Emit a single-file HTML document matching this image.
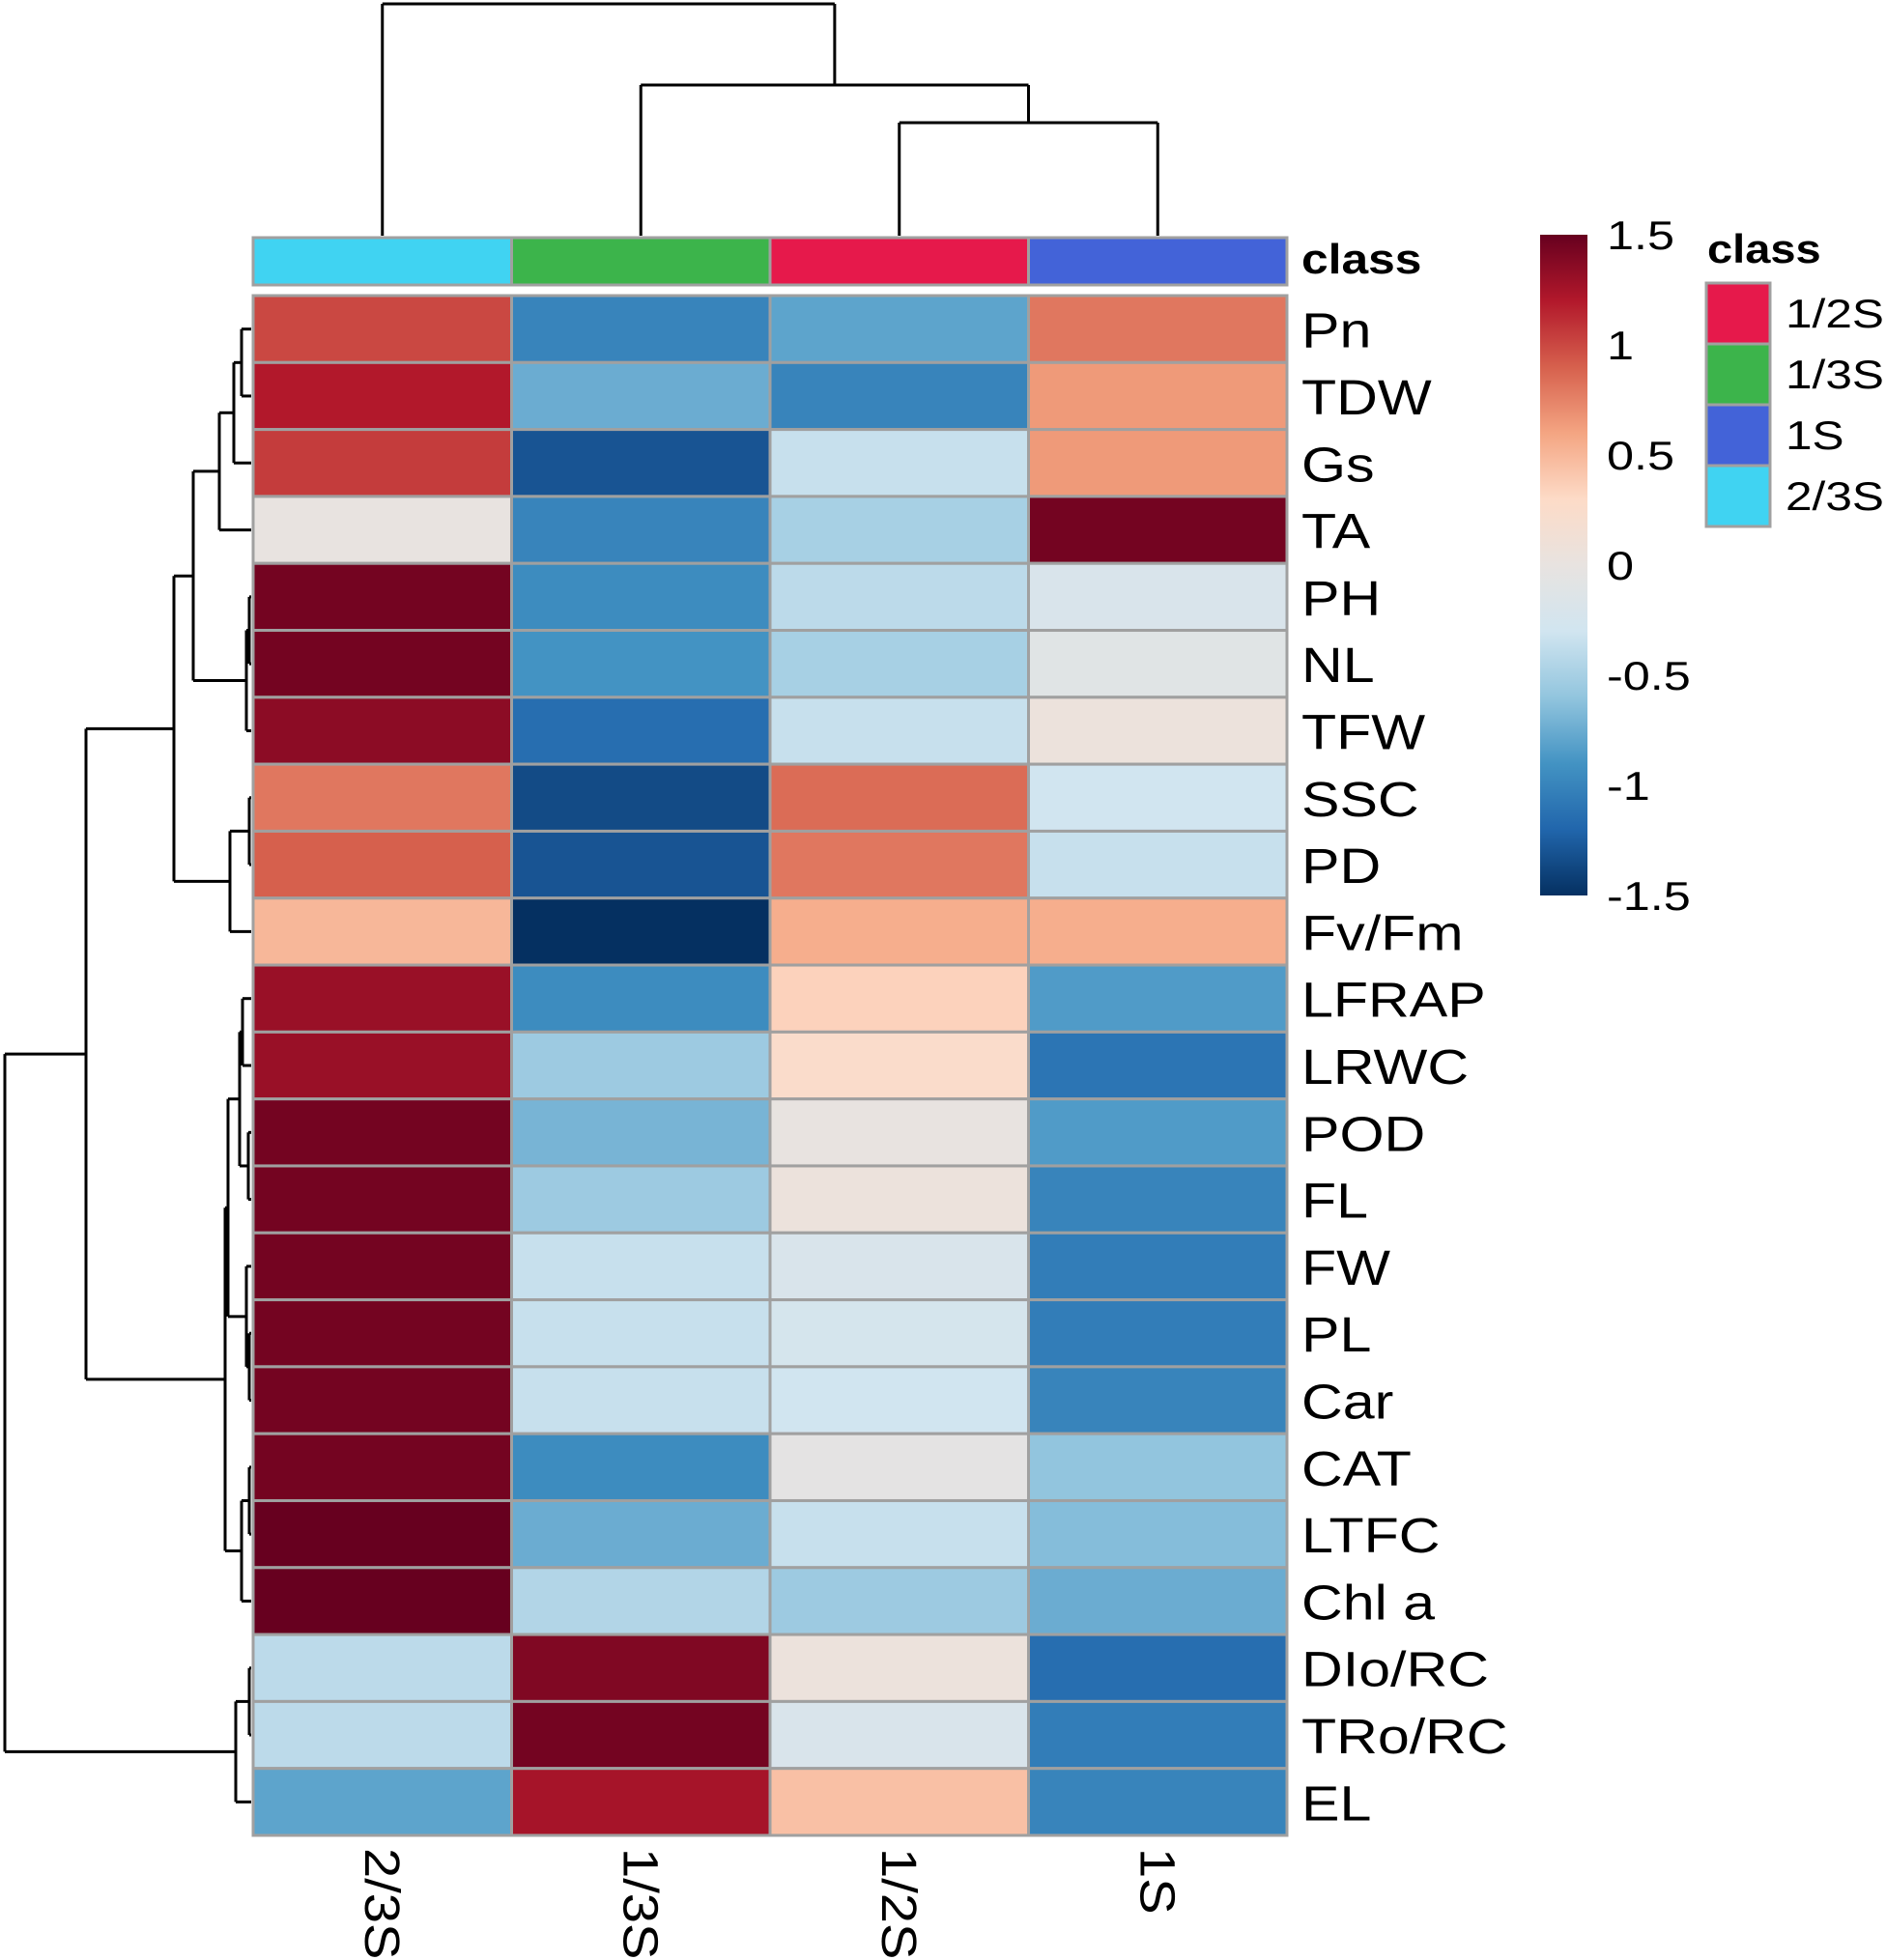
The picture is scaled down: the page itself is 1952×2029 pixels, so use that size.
<!DOCTYPE html>
<html><head><meta charset="utf-8"><style>
html,body{margin:0;padding:0;background:#fff;}
svg{display:block;font-family:"Liberation Sans",sans-serif;}
</style></head><body>
<svg id="chart" width="1952" height="2029" viewBox="0 0 1952 2029" xmlns="http://www.w3.org/2000/svg">
<defs>
<linearGradient id="cbar" x1="0" y1="1" x2="0" y2="0">
<stop offset="0" stop-color="#053061"/><stop offset="0.1" stop-color="#2166ac"/><stop offset="0.2" stop-color="#4393c3"/><stop offset="0.3" stop-color="#92c5de"/><stop offset="0.4" stop-color="#d1e5f0"/><stop offset="0.5" stop-color="#e8e3e0"/><stop offset="0.6" stop-color="#fddbc7"/><stop offset="0.7" stop-color="#f4a582"/><stop offset="0.8" stop-color="#d6604d"/><stop offset="0.9" stop-color="#b2182b"/><stop offset="1" stop-color="#67001f"/>
</linearGradient>
</defs>
<g id="cells"></g>
<g id="classbar"></g>
<g id="rowlabels"></g>
<g id="collabels"></g>
<g id="rowdend" stroke="#000" stroke-width="3" fill="none"></g>
<g id="coldend" stroke="#000" stroke-width="3" fill="none"></g>
<text transform="translate(1347,283) scale(1.13,1)" font-size="44" font-weight="bold">class</text>
<g>
<rect x="1594" y="243" width="49" height="684" fill="url(#cbar)"/>
<g id="cbticks"></g>
</g>
<g>
<text transform="translate(1767,272) scale(1.12,1)" font-size="42" font-weight="bold">class</text>
<g id="classleg"></g>
</g>
</svg>
<script>
const rows = ["Pn","TDW","Gs","TA","PH","NL","TFW","SSC","PD","Fv/Fm","LFRAP","LRWC","POD","FL","FW","PL","Car","CAT","LTFC","Chl a","DIo/RC","TRo/RC","EL"];
const cols = ["2/3S","1/3S","1/2S","1S"];
const v23S = [1.0,1.2,1.05,0.0,1.45,1.45,1.35,0.8,0.9,0.5,1.3,1.3,1.45,1.45,1.45,1.45,1.45,1.45,1.5,1.5,-0.4,-0.4,-0.8];
const v13S = [-1.0,-0.75,-1.3,-1.0,-0.95,-0.9,-1.15,-1.35,-1.3,-1.5,-0.95,-0.55,-0.7,-0.55,-0.35,-0.35,-0.35,-0.95,-0.75,-0.45,1.4,1.45,1.25];
const v12S = [-0.8,-1.0,-0.35,-0.5,-0.4,-0.5,-0.35,0.85,0.8,0.55,0.35,0.25,0.0,0.05,-0.2,-0.25,-0.3,-0.05,-0.35,-0.55,0.05,-0.2,0.45];
const v1S = [0.8,0.65,0.65,1.45,-0.2,-0.1,0.05,-0.3,-0.35,0.55,-0.85,-1.1,-0.85,-1.0,-1.05,-1.05,-1.0,-0.6,-0.65,-0.75,-1.15,-1.05,-1.0];
const series = [v23S,v13S,v12S,v1S];
const classNames = ["1/2S","1/3S","1S","2/3S"];
const classColors = ["#E6194B","#3CB44B","#4363D8","#40D3F2"];
const colClass = ["2/3S","1/3S","1/2S","1S"];
const cbTicks = [1.5,1,0.5,0,-0.5,-1,-1.5];
const cbTickLabels = ["1.5","1","0.5","0","-0.5","-1","-1.5"];

const NS="http://www.w3.org/2000/svg";
const X0=262,X1=1332,Y0=306,Y1=1900;
const cw=(X1-X0)/cols.length, rh=(Y1-Y0)/rows.length;
const xPos=j=>X0+j*cw, yPos=i=>Y0+i*rh;
const stops=[[-1.5,[5,48,97]],[-1.2,[33,102,172]],[-0.9,[67,147,195]],[-0.6,[146,197,222]],[-0.3,[209,229,240]],[0,[232,227,224]],[0.3,[253,219,199]],[0.6,[244,165,130]],[0.9,[214,96,77]],[1.2,[178,24,43]],[1.5,[103,0,31]]];
function color(v){v=Math.max(-1.5,Math.min(1.5,v));for(let k=0;k<stops.length-1;k++){const a=stops[k],b=stops[k+1];if(v<=b[0]){const t=(v-a[0])/(b[0]-a[0]);const c=a[1].map((x,i)=>Math.round(x+(b[1][i]-x)*t));return `rgb(${c})`;}}return "rgb(103,0,31)";}
function mk(tag,attrs,parent){const e=document.createElementNS(NS,tag);for(const k in attrs)e.setAttribute(k,attrs[k]);parent.appendChild(e);return e;}

const cells=document.getElementById('cells');
series.forEach((s,j)=>s.forEach((v,i)=>{
  const r=mk('rect',{x:xPos(j),y:yPos(i),width:cw,height:rh,fill:color(v),stroke:'#a0a0a0','stroke-width':3},cells);
  
  
}));
const cb=document.getElementById('classbar');
colClass.forEach((c,j)=>{
  const r=mk('rect',{x:xPos(j),y:246,width:cw,height:49,fill:classColors[classNames.indexOf(c)],stroke:'#a0a0a0','stroke-width':3},cb);
  
  
});
const rl=document.getElementById('rowlabels');
rows.forEach((n,i)=>{
  const t=mk('text',{transform:`translate(1347,${yPos(i)+rh/2+19}) scale(1.16,1)`,'font-size':51},rl);t.textContent=n;
  
  
});
const cl=document.getElementById('collabels');
cols.forEach((n,j)=>{
  const cx=xPos(j)+cw/2-18;
  const t=mk('text',{x:0,y:0,'font-size':51,transform:`translate(${cx},1913) rotate(90) scale(1.1,1)`},cl);t.textContent=n;
  
  
});
const rowTree={h:5,c:[{h:89,c:[{h:180,c:[{h:200,c:[{h:227,c:[{h:242,c:[{h:250,c:[0,1]},2]},3]},{h:255,c:[{h:258,c:[4,5]},6]}]},{h:238,c:[{h:258,c:[7,8]},9]}]},{h:233,c:[{h:236,c:[{h:248,c:[{h:251,c:[10,11]},{h:257,c:[12,13]}]},{h:255,c:[14,{h:258,c:[15,16]}]}]},{h:250,c:[{h:258,c:[17,18]},19]}]}]},{h:244,c:[{h:258,c:[20,21]},22]}]};
const rd=document.getElementById('rowdend');
function drawRow(n){if(typeof n==='number')return {y:yPos(n)+rh/2,x:260};
  const ch=n.c.map(drawRow);
  ch.forEach(c=>{const p=mk('path',{d:`M${c.x},${c.y}H${n.h}`},rd);});
  const p=mk('path',{d:`M${n.h},${ch[0].y}V${ch[ch.length-1].y}`},rd);
  return {y:(ch[0].y+ch[ch.length-1].y)/2,x:n.h};}
drawRow(rowTree);
const colTree={h:4,c:[0,{h:88,c:[1,{h:127,c:[2,3]}]}]};
const cd=document.getElementById('coldend');
function drawCol(n){if(typeof n==='number')return {x:xPos(n)+cw/2,y:244};
  const ch=n.c.map(drawCol);
  ch.forEach(c=>{const p=mk('path',{d:`M${c.x},${c.y}V${n.h}`},cd);});
  const p=mk('path',{d:`M${ch[0].x},${n.h}H${ch[ch.length-1].x}`},cd);
  return {x:(ch[0].x+ch[ch.length-1].x)/2,y:n.h};}
drawCol(colTree);
const ct=document.getElementById('cbticks');
cbTicks.forEach((v,k)=>{
  const y=243+(1.5-v)/3*684;
  const t=mk('text',{transform:`translate(1663,${y+15}) scale(1.2,1)`,'font-size':42},ct);t.textContent=cbTickLabels[k];
  
  
});
const cleg=document.getElementById('classleg');
classNames.forEach((n,k)=>{
  const y=293+k*63;
  const r=mk('rect',{x:1766,y:y,width:66,height:63,fill:classColors[k],stroke:'#a0a0a0','stroke-width':3},cleg);
  
  
  const t=mk('text',{transform:`translate(1848,${y+46}) scale(1.18,1)`,'font-size':42},cleg);t.textContent=n;
  
  
});
</script>
</body></html>
